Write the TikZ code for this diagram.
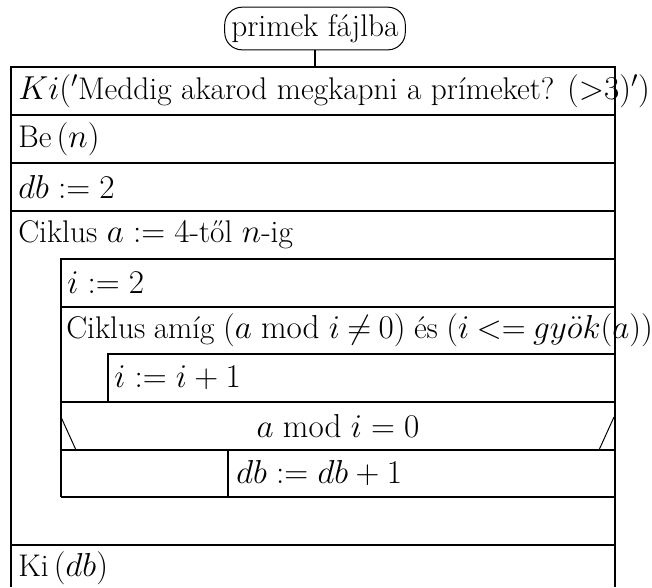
\documentclass[tikz,border=0pt]{standalone}
\begin{document}
\begin{tikzpicture}[x=0.75pt,y=-0.75pt,
  font=\fontsize{23.5}{28}\selectfont,
  boxline/.style={line width=1.5pt},
  thinline/.style={line width=0.75pt},
  txt/.style={anchor=west,inner sep=0pt},
  ctxt/.style={anchor=center,inner sep=0pt},
  startbox/.style={draw,line width=0.75pt,rounded corners=13pt,minimum height=32pt,inner xsep=5pt,inner ysep=2pt}]
\useasboundingbox (0,0) rectangle (652,587);
% title
\node[startbox] (title) at (315,28.5) {primek fájlba};
\coordinate (top) at (315,67);
\draw[line width=1pt] (title.south) -- (top);
% outer frame
\draw[boxline] (11,587) -- (11,67) -- (615,67);
\draw[line width=2.2pt] (615,66) -- (615,587);
\foreach \y in {115,163,211,545} \draw[boxline] (11,\y) -- (615,\y);
% inner loop block
\draw[boxline] (61,497) -- (61,259) -- (615,259);
\foreach \y in {307,402,450,497} \draw[boxline] (61,\y) -- (615,\y);
% innermost loop block
\draw[boxline] (108,402) -- (108,354) -- (615,354);
% decision
\draw[thinline] (61,417) -- (76,450);
\draw[thinline] (614,417) -- (599,450);
\draw[line width=1.1pt] (228,450) -- (228,497);
% texts
\node[txt] (t1) at (18,91) {$Ki('$Meddig akarod megkapni a prímeket? $({>}3)')$};
\node[txt] (t2) at (18,139) {Be\,$(n)$};
\node[txt] (t3) at (18,187) {$db := 2$};
\node[txt] (t4) at (18,235) {Ciklus $a := 4$-től $n$-ig};
\node[txt] (t5) at (67,283) {$i := 2$};
\node[txt] (t6) at (66,330.5) {\thickmuskip=4mu plus 2mu\spaceskip=0.27em plus 0.1em Ciklus amíg $(a \bmod i \neq 0)$ és $(i <= gy\ddot{o}k(a))$};
\node[txt] (t7) at (114,378) {$i := i+1$};
\node[ctxt] (t8) at (338,426) {$a \bmod i = 0$};
\node[txt] (t9) at (236,473.5) {$db := db+1$};
\node[txt] (t10) at (18,568) {Ki\,$(db)$};
\end{tikzpicture}
\end{document}
